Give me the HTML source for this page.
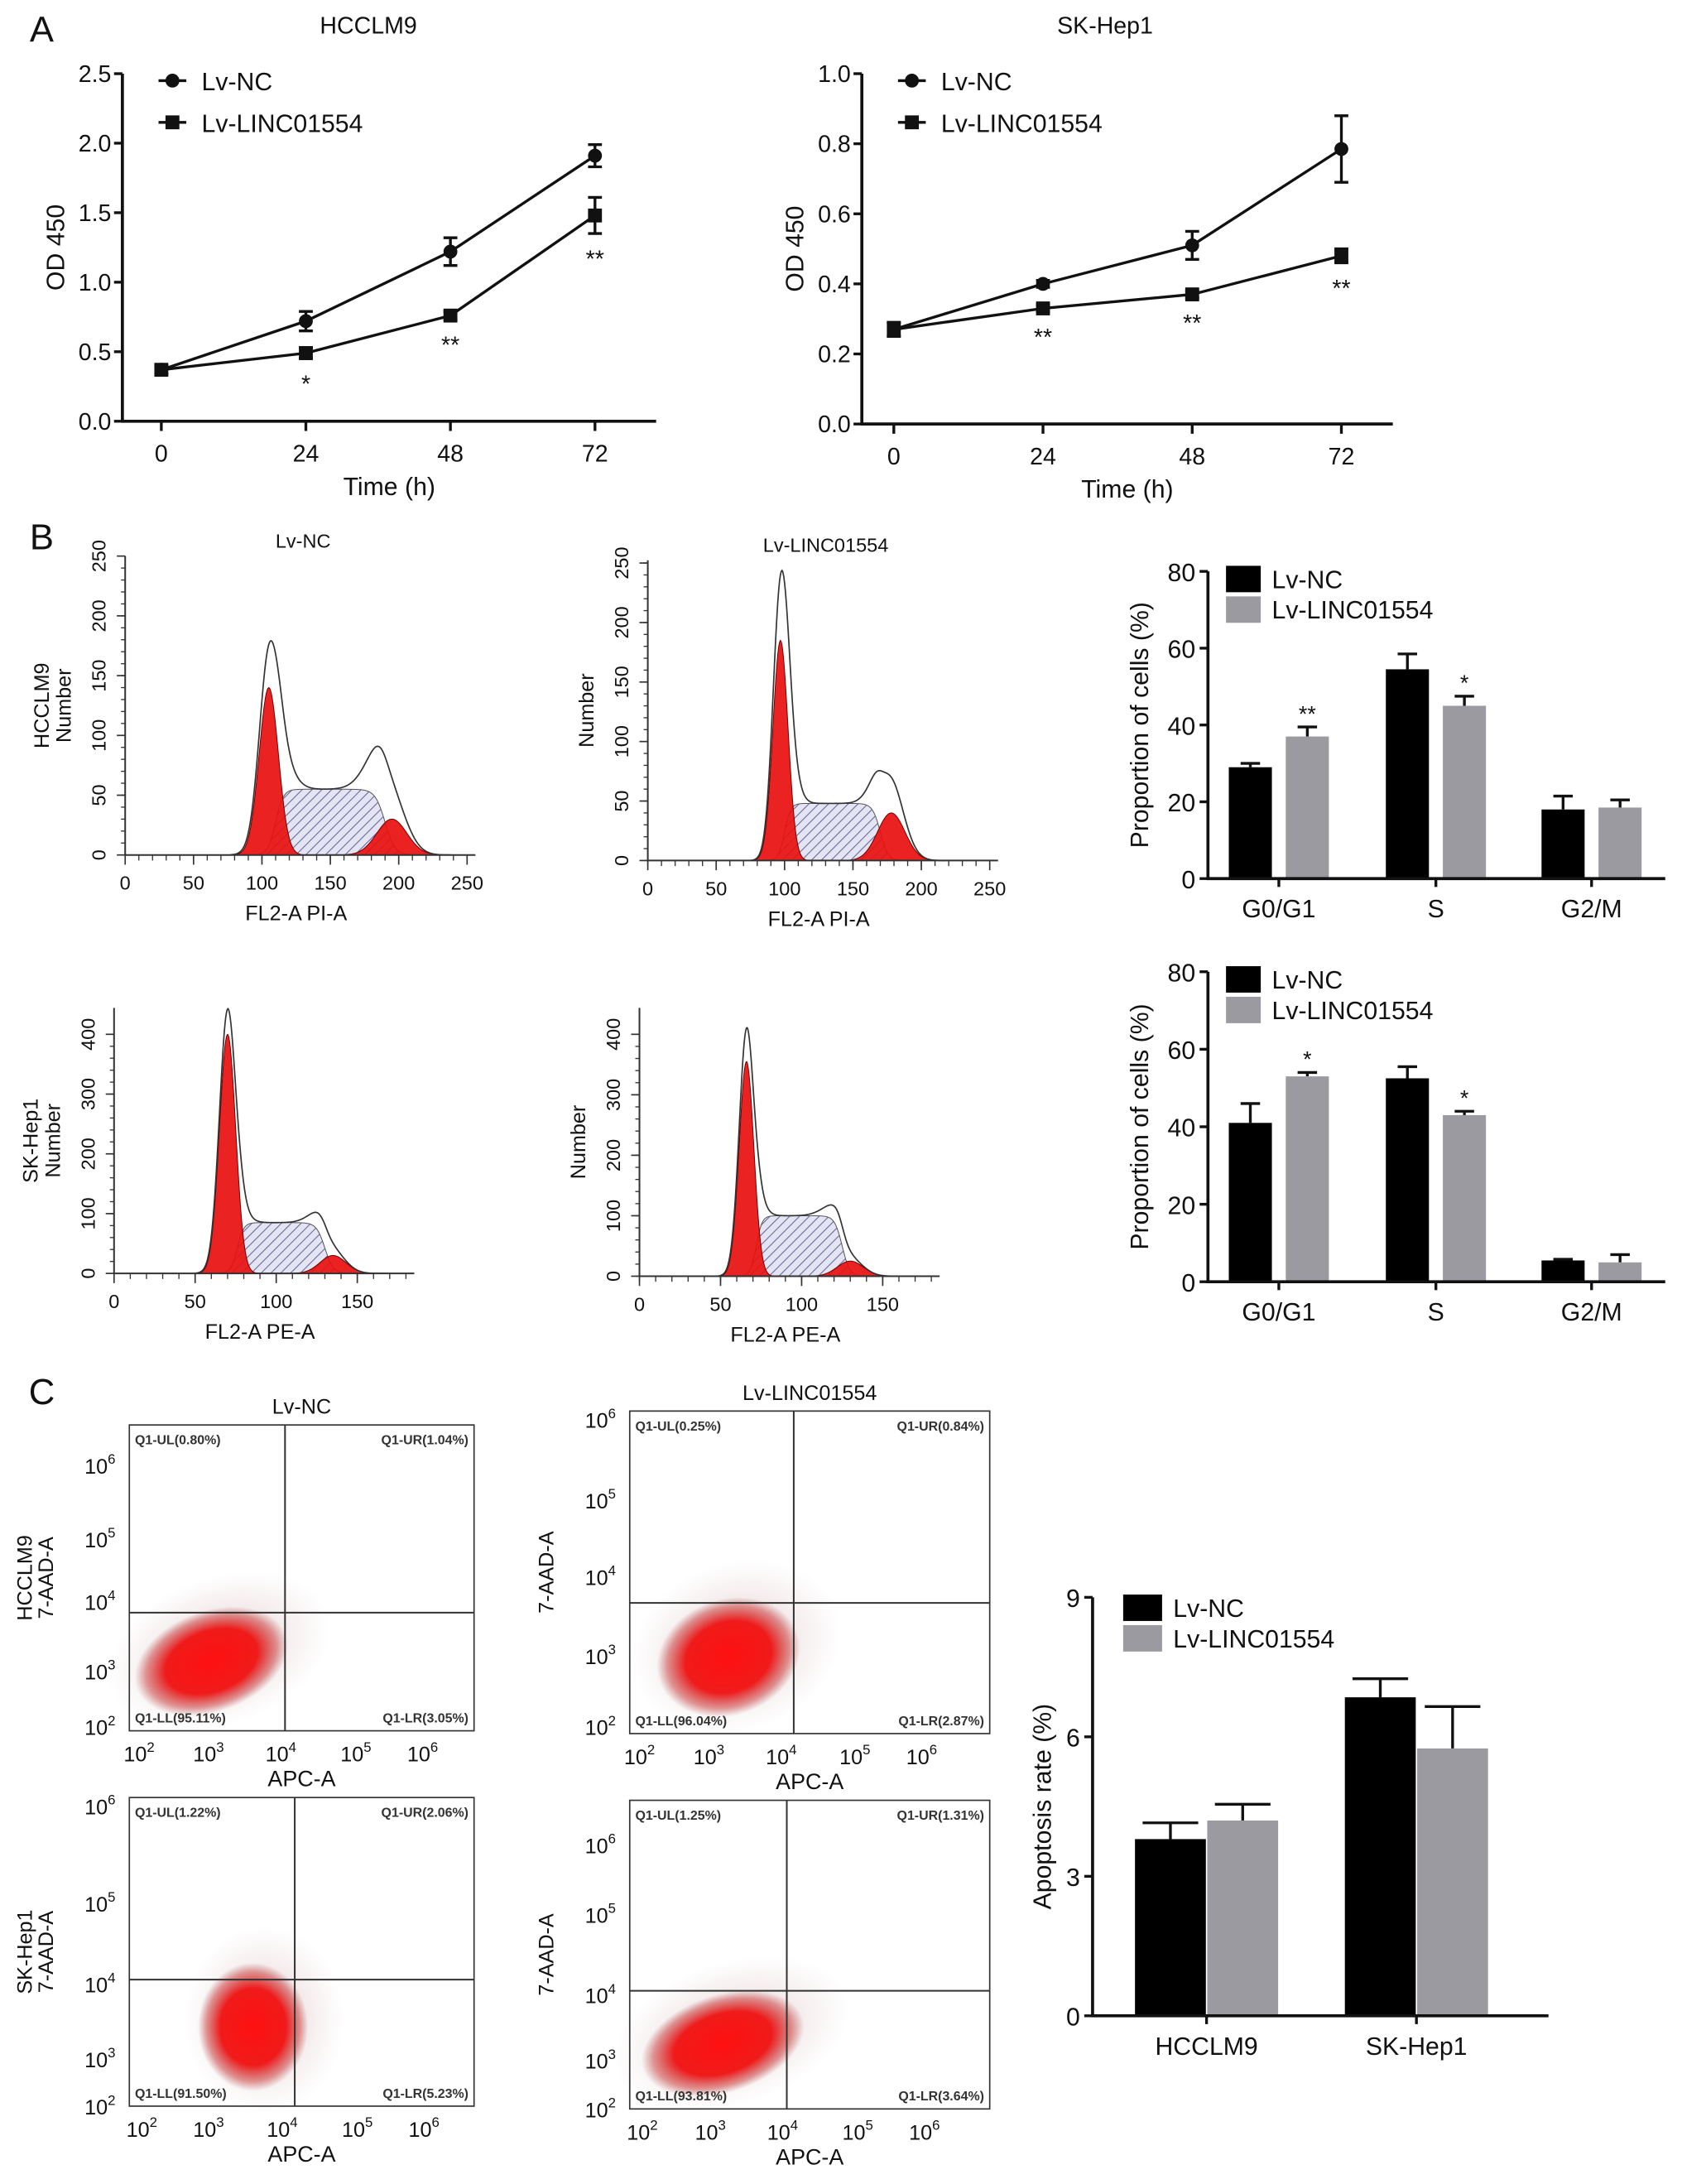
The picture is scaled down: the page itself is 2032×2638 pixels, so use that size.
<!DOCTYPE html>
<html><head><meta charset="utf-8">
<style>
html,body{margin:0;padding:0;background:#fff;}
svg{display:block;font-family:"Liberation Sans",Arial,sans-serif;}
</style></head>
<body>
<svg id="fig" width="2032" height="2638" viewBox="0 0 1210 1571" xmlns="http://www.w3.org/2000/svg">
<defs>
<pattern id="hatch" patternUnits="userSpaceOnUse" width="5" height="5" patternTransform="rotate(45)">
<rect width="5" height="5" fill="#e4e4f2"/>
<line x1="0" y1="0" x2="0" y2="5" stroke="#6a6aa0" stroke-width="1.3"/>
</pattern>
<radialGradient id="cloud" cx="50%" cy="50%" r="50%">
<stop offset="0%" stop-color="#ff1010" stop-opacity="1"/>
<stop offset="60%" stop-color="#f01010" stop-opacity="0.95"/>
<stop offset="85%" stop-color="#c83030" stop-opacity="0.5"/>
<stop offset="100%" stop-color="#b04040" stop-opacity="0"/>
</radialGradient>
<radialGradient id="cloud2" cx="50%" cy="50%" r="50%">
<stop offset="0%" stop-color="#a04040" stop-opacity="0.25"/>
<stop offset="100%" stop-color="#a06060" stop-opacity="0"/>
</radialGradient>
</defs>
<g id="root"></g>
</svg>
<script>
// ---------- Panel A data ----------
const timeCats = [0, 24, 48, 72];
const hccNC = [0.37, 0.72, 1.22, 1.91];
const hccNCerr = [0.03, 0.07, 0.10, 0.08];
const hccLinc = [0.37, 0.49, 0.76, 1.48];
const hccLincErr = [0.03, 0.04, 0.03, 0.13];
const hccStars = ["", "*", "**", "**"];
const hccTicks = ["0.0", "0.5", "1.0", "1.5", "2.0", "2.5"];
const skNC = [0.27, 0.40, 0.51, 0.785];
const skNCerr = [0.02, 0.01, 0.04, 0.095];
const skLinc = [0.27, 0.33, 0.37, 0.48];
const skLincErr = [0.02, 0.01, 0.01, 0.02];
const skStars = ["", "**", "**", "**"];
const skTicks = ["0.0", "0.2", "0.4", "0.6", "0.8", "1.0"];
// ---------- Panel B bar data ----------
const phaseCats = ["G0/G1", "S", "G2/M"];
const cycHccNC = [29, 54.5, 18];
const cycHccNCerr = [1, 4, 3.5];
const cycHccLinc = [37, 45, 18.5];
const cycHccLincErr = [2.5, 2.5, 2];
const cycHccStars = ["**", "*", ""];
const cycSkNC = [41, 52.5, 5.5];
const cycSkNCerr = [5, 3, 0.3];
const cycSkLinc = [53, 43, 5];
const cycSkLincErr = [1, 1, 2];
const cycSkStars = ["*", "*", ""];
const cycTicks = [0, 20, 40, 60, 80];
// ---------- Histogram model components [mu, sd, height] ----------
const histHccNC_g1 = [105, 7, 140], histHccNC_s = [110, 190, 55], histHccNC_g2 = [195, 11, 30], histHccNC_extra = [110, 10, 32, 188, 12, 28];
const histHccLinc_g1 = [97, 5.5, 185], histHccLinc_s = [100, 170, 48], histHccLinc_g2 = [178, 10, 40], histHccLinc_extra = [100, 7, 50, 176, 9, 28];
const histSkNC_g1 = [70, 5, 400], histSkNC_s = [76, 130, 85], histSkNC_g2 = [135, 8, 30], histSkNC_extra = [72, 7, 40, 128, 8, 15];
const histSkLinc_g1 = [66, 4.5, 355], histSkLinc_s = [72, 125, 100], histSkLinc_g2 = [130, 8, 25], histSkLinc_extra = [68, 6, 55, 120, 8, 15];
const histTicksA = [0, 50, 100, 150, 200, 250];
const histTicksB = [0, 50, 100, 150];
const histYTicksA = [0, 50, 100, 150, 200, 250];
const histYTicksB = [0, 100, 200, 300, 400];
// ---------- Panel C data ----------
const apoCats = ["HCCLM9", "SK-Hep1"];
const apoNC = [3.8, 6.85];
const apoNCerr = [0.35, 0.4];
const apoLinc = [4.2, 5.75];
const apoLincErr = [0.35, 0.9];
const apoTicks = [0, 3, 6, 9];
const quadTL = ["Q1-UL(0.80%)", "Q1-UR(1.04%)", "Q1-LL(95.11%)", "Q1-LR(3.05%)"];
const quadTR = ["Q1-UL(0.25%)", "Q1-UR(0.84%)", "Q1-LL(96.04%)", "Q1-LR(2.87%)"];
const quadBL = ["Q1-UL(1.22%)", "Q1-UR(2.06%)", "Q1-LL(91.50%)", "Q1-LR(5.23%)"];
const quadBR = ["Q1-UL(1.25%)", "Q1-UR(1.31%)", "Q1-LL(93.81%)", "Q1-LR(3.64%)"];
const logExps = ["2", "3", "4", "5", "6"];

const NS = "http://www.w3.org/2000/svg";
const root = document.getElementById('root');
function mk(tag, attrs, name, parent) {
  const el = document.createElementNS(NS, tag);
  for (const k in attrs) el.setAttribute(k, attrs[k]);
  
  
  (parent || root).appendChild(el);
  return el;
}
function txt(x, y, s, size, name, opts) {
  opts = opts || {};
  const t = mk('text', {x: x, y: y, 'font-size': size, 'text-anchor': opts.anchor || 'middle', fill: opts.fill || '#111', 'font-weight': opts.weight || 'normal'}, name);
  if (opts.rot) t.setAttribute('transform', 'rotate(' + opts.rot + ' ' + x + ' ' + y + ')');
  t.textContent = s;
  return t;
}
function line(x1, y1, x2, y2, w, name, col) {
  return mk('line', {x1: x1, y1: y1, x2: x2, y2: y2, stroke: col || '#111', 'stroke-width': w}, name);
}

// ---------- Panel A line charts ----------
function lineChart(c) {
  const sx = v => c.x0 + (v / 72) * (c.x72 - c.x0);
  const sy = v => c.yb - (v / c.ymax) * (c.yb - c.yt);
  line(c.ax, c.yt, c.ax, c.yb + 1, 2.2, 'y-axis');
  line(c.ax - 1, c.yb, c.xend, c.yb, 2.2, 'x-axis');
  c.ticks.forEach((t, i) => {
    const v = parseFloat(t);
    line(c.ax - 6, sy(v), c.ax, sy(v), 2, 'y-tick');
    txt(c.ax - 8, sy(v) + 6, t, 17, 'y-tick-label', {anchor: 'end'});
  });
  timeCats.forEach(t => {
    line(sx(t), c.yb, sx(t), c.yb + 7, 2, 'x-tick');
    txt(sx(t), c.yb + 29, String(t), 17, 'x-tick-label');
  });
  txt((c.ax + c.xend) / 2, c.yb + 53, 'Time (h)', 18, 'x-axis-title');
  txt(c.ax - 42, (c.yt + c.yb) / 2, 'OD 450', 18, 'y-axis-title', {rot: -90});
  txt(c.titleX, 24, c.title, 17, 'chart-title');
  const series = [[c.nc, c.ncErr, 'circle', 'lv-nc'], [c.li, c.liErr, 'square', 'lv-linc01554']];
  series.forEach(s => {
    const pts = s[0].map((v, i) => sx(timeCats[i]) + ',' + sy(v)).join(' ');
    mk('polyline', {points: pts, fill: 'none', stroke: '#111', 'stroke-width': 2}, s[3] + '-line');
    s[0].forEach((v, i) => {
      const x = sx(timeCats[i]);
      const e = s[1][i];
      line(x, sy(v + e), x, sy(v - e), 2, s[3] + '-error-bar');
      line(x - 5, sy(v + e), x + 5, sy(v + e), 2, s[3] + '-error-cap');
      line(x - 5, sy(v - e), x + 5, sy(v - e), 2, s[3] + '-error-cap');
      if (s[2] === 'circle') mk('circle', {cx: x, cy: sy(v), r: 5, fill: '#111'}, s[3] + '-point');
      else mk('rect', {x: x - 5, y: sy(v) - 5, width: 10, height: 10, fill: '#111'}, s[3] + '-point');
    });
  });
  c.stars.forEach((s, i) => {
    if (s) txt(sx(timeCats[i]), sy(c.li[i] - c.liErr[i]) + 24, s, 17, 'significance-star');
  });
  line(c.ax + 26, 58, c.ax + 46, 58, 2, 'legend-line');
  mk('circle', {cx: c.ax + 36, cy: 58, r: 5, fill: '#111'}, 'legend-marker');
  txt(c.ax + 57, 65, 'Lv-NC', 18, 'legend-label', {anchor: 'start'});
  line(c.ax + 26, 88, c.ax + 46, 88, 2, 'legend-line');
  mk('rect', {x: c.ax + 31, y: 83, width: 10, height: 10, fill: '#111'}, 'legend-marker');
  txt(c.ax + 57, 95, 'Lv-LINC01554', 18, 'legend-label', {anchor: 'start'});
}
txt(30, 30, 'A', 26, 'panel-label-a');
lineChart({ax: 88, x0: 116, x72: 428, xend: 472, yt: 53, yb: 303, ymax: 2.5, ticks: hccTicks, nc: hccNC, ncErr: hccNCerr, li: hccLinc, liErr: hccLincErr, stars: hccStars, title: 'HCCLM9', titleX: 265});
lineChart({ax: 620, x0: 643, x72: 965, xend: 1002, yt: 53, yb: 305, ymax: 1.0, ticks: skTicks, nc: skNC, ncErr: skNCerr, li: skLinc, liErr: skLincErr, stars: skStars, title: 'SK-Hep1', titleX: 795});

// ---------- Panel B histograms ----------
function gauss(x, p) { return p[2] * Math.exp(-0.5 * Math.pow((x - p[0]) / p[1], 2)); }
function sPhase(x, p, w) { return p[2] * 0.5 * (1 + Math.tanh((x - p[0]) / w)) * 0.5 * (1 - Math.tanh((x - p[1]) / (w * 1.3))); }
function hist(c) {
  const sx = v => c.x0 + v / c.xmax * (c.x1 - c.x0);
  const sy = v => c.yb - v / c.ymaxv * (c.yb - c.ytv);
  const step = c.xmax / 400;
  const pathFor = f => {
    let d = 'M' + sx(0) + ',' + c.yb;
    for (let x = 0; x <= c.xmax; x += step) d += ' L' + sx(x).toFixed(2) + ',' + sy(f(x)).toFixed(2);
    return d + ' L' + sx(c.xmax) + ',' + c.yb + ' Z';
  };
  const w = c.g1[1] * 0.8;
  mk('path', {d: pathFor(x => sPhase(x, c.s, w)), fill: 'url(#hatch)', stroke: '#555', 'stroke-width': 0.6}, 's-phase-fit');
  mk('path', {d: pathFor(x => gauss(x, c.g1)), fill: '#e8100f', 'fill-opacity': 0.92, stroke: '#700', 'stroke-width': 0.6}, 'g1-peak-fit');
  mk('path', {d: pathFor(x => gauss(x, c.g2)), fill: '#e8100f', 'fill-opacity': 0.92, stroke: '#700', 'stroke-width': 0.6}, 'g2-peak-fit');
  const env = x => gauss(x, c.g1) + sPhase(x, c.s, w) + gauss(x, c.g2) + gauss(x, c.ex.slice(0, 3)) + gauss(x, c.ex.slice(3, 6));
  let d = '';
  for (let x = c.g1[0] - 4 * c.g1[1]; x <= c.g2[0] + 4 * c.g2[1]; x += step) d += (d ? ' L' : 'M') + sx(x).toFixed(2) + ',' + sy(env(x)).toFixed(2);
  mk('path', {d: d, fill: 'none', stroke: '#333', 'stroke-width': 1}, 'histogram-envelope');
  line(c.x0, c.yt, c.x0, c.yb, 1.2, 'y-axis', '#333');
  line(c.x0, c.yb, c.x1 + 6, c.yb, 1.2, 'x-axis', '#333');
  c.xt.forEach(t => {
    line(sx(t), c.yb, sx(t), c.yb + 7, 1, 'x-tick', '#333');
    txt(sx(t), c.yb + 25, String(t), 14, 'x-tick-label');
  });
  for (let t = 0; t <= c.xmax; t += 10) line(sx(t), c.yb, sx(t), c.yb + 4, 0.8, 'x-minor-tick', '#333');
  c.yt2.forEach(t => {
    line(c.x0 - 6, sy(t), c.x0, sy(t), 1, 'y-tick', '#333');
    txt(c.x0 - 14, sy(t), String(t), 14, 'y-tick-label', {rot: -90});
  });
  for (let t = 0; t <= c.ymaxv; t += c.minor) line(c.x0 - 3, sy(t), c.x0, sy(t), 0.8, 'y-minor-tick', '#333');
  txt((c.x0 + c.x1) / 2, c.yb + 47, c.xlab, 15, 'x-axis-title');
  if (c.title) txt((c.x0 + c.x1) / 2 + 5, c.yt - 6, c.title, 14, 'histogram-title');
  c.ylab.forEach((l, i) => txt(c.x0 - 55 + i * 16, (c.yt + c.yb) / 2, l, 15, 'y-axis-title', {rot: -90}));
}
txt(30, 395, 'B', 26, 'panel-label-b');
hist({x0: 90, x1: 336, xmax: 250, yb: 615, yt: 400, ytv: 400, ymaxv: 250, g1: histHccNC_g1, s: histHccNC_s, g2: histHccNC_g2, ex: histHccNC_extra, xt: histTicksA, yt2: histYTicksA, minor: 10, xlab: 'FL2-A PI-A', title: 'Lv-NC', ylab: ['HCCLM9', 'Number']});
hist({x0: 466, x1: 712, xmax: 250, yb: 619, yt: 403, ytv: 405, ymaxv: 250, g1: histHccLinc_g1, s: histHccLinc_s, g2: histHccLinc_g2, ex: histHccLinc_extra, xt: histTicksA, yt2: histYTicksA, minor: 10, xlab: 'FL2-A PI-A', title: 'Lv-LINC01554', ylab: ['', 'Number']});
hist({x0: 82, x1: 292, xmax: 180, yb: 916, yt: 725, ytv: 744, ymaxv: 400, g1: histSkNC_g1, s: histSkNC_s, g2: histSkNC_g2, ex: histSkNC_extra, xt: histTicksB, yt2: histYTicksB, minor: 20, xlab: 'FL2-A PE-A', title: '', ylab: ['SK-Hep1', 'Number']});
hist({x0: 460, x1: 670, xmax: 180, yb: 918, yt: 725, ytv: 744, ymaxv: 400, g1: histSkLinc_g1, s: histSkLinc_s, g2: histSkLinc_g2, ex: histSkLinc_extra, xt: histTicksB, yt2: histYTicksB, minor: 20, xlab: 'FL2-A PE-A', title: '', ylab: ['', 'Number']});

// ---------- Bar charts ----------
function barChart(c) {
  const sy = v => c.yb - v / c.ymax * (c.yb - c.yt);
  c.cats.forEach((cat, i) => {
    const cx = c.catX[i];
    [[c.nc, c.ncErr, '#000', -1, 'lv-nc-bar'], [c.li, c.liErr, '#9a9aa0', 1, 'lv-linc01554-bar']].forEach(s => {
      const x = s[3] < 0 ? cx - c.gap / 2 - c.bw : cx + c.gap / 2;
      const v = s[0][i], e = s[1][i];
      line(x + c.bw / 2, sy(v + e), x + c.bw / 2, sy(v), 2, 'error-bar');
      line(x + c.bw / 2 - c.cap, sy(v + e), x + c.bw / 2 + c.cap, sy(v + e), 2, 'error-cap');
      mk('rect', {x: x, y: sy(v), width: c.bw, height: c.yb - sy(v), fill: s[2]}, s[4]);
      if (s[3] > 0 && c.stars && c.stars[i]) txt(x + c.bw / 2, sy(v + e) - 4, c.stars[i], 16, 'significance-star');
    });
    line(cx, c.yb, cx, c.yb + 6, 2, 'x-tick');
    txt(cx, c.yb + 28, cat, c.catSize, 'x-tick-label');
  });
  line(c.ax, c.yt, c.ax, c.yb + 1, 2.2, 'y-axis');
  line(c.ax - 1, c.yb, c.xend, c.yb, 2.2, 'x-axis');
  c.ticks.forEach(t => {
    line(c.ax - 6, sy(t), c.ax, sy(t), 2, 'y-tick');
    txt(c.ax - 9, sy(t) + 7, String(t), 18, 'y-tick-label', {anchor: 'end'});
  });
  txt(c.ytx, (c.yt + c.yb) / 2, c.ytitle, 18, 'y-axis-title', {rot: -90});
  mk('rect', {x: c.lx, y: c.ly, width: c.lw, height: 19, fill: '#000'}, 'legend-swatch-lv-nc');
  txt(c.lx + c.lw + 8, c.ly + 16, 'Lv-NC', 18, 'legend-label', {anchor: 'start'});
  mk('rect', {x: c.lx, y: c.ly + 22, width: c.lw, height: 19, fill: '#9a9aa0'}, 'legend-swatch-lv-linc01554');
  txt(c.lx + c.lw + 8, c.ly + 38, 'Lv-LINC01554', 18, 'legend-label', {anchor: 'start'});
}
barChart({cats: phaseCats, catX: [920, 1033, 1145], bw: 31, gap: 10, cap: 7, ax: 869, xend: 1198, yt: 411, yb: 632, ymax: 80, nc: cycHccNC, ncErr: cycHccNCerr, li: cycHccLinc, liErr: cycHccLincErr, stars: cycHccStars, ticks: cycTicks, ytitle: 'Proportion of cells (%)', ytx: 826, lx: 882, ly: 407, lw: 25, catSize: 18});
barChart({cats: phaseCats, catX: [920, 1033, 1145], bw: 31, gap: 10, cap: 7, ax: 869, xend: 1198, yt: 699, yb: 922, ymax: 80, nc: cycSkNC, ncErr: cycSkNCerr, li: cycSkLinc, liErr: cycSkLincErr, stars: cycSkStars, ticks: cycTicks, ytitle: 'Proportion of cells (%)', ytx: 826, lx: 882, ly: 695, lw: 25, catSize: 18});
barChart({cats: apoCats, catX: [868, 1019], bw: 51, gap: 1, cap: 20, ax: 786, xend: 1114, yt: 1149, yb: 1450, ymax: 9, nc: apoNC, ncErr: apoNCerr, li: apoLinc, liErr: apoLincErr, stars: null, ticks: apoTicks, ytitle: 'Apoptosis rate (%)', ytx: 756, lx: 808, ly: 1147, lw: 28, catSize: 18});

// ---------- Panel C scatter plots ----------
function scatter(c) {
  mk('rect', {x: c.x0, y: c.y0, width: c.x1 - c.x0, height: c.y1 - c.y0, fill: '#fff', stroke: '#333', 'stroke-width': 1}, 'scatter-frame');
  mk('ellipse', {cx: c.sc[0] + 8, cy: c.sc[1] - 5, rx: c.sc[2] * 1.6, ry: c.sc[3] * 1.6, fill: 'url(#cloud2)', transform: 'rotate(' + c.sc[4] + ' ' + c.sc[0] + ' ' + c.sc[1] + ')'}, 'event-cloud-halo');
  mk('ellipse', {cx: c.sc[0], cy: c.sc[1], rx: c.sc[2] * 1.1, ry: c.sc[3] * 1.1, fill: 'url(#cloud)', transform: 'rotate(' + c.sc[4] + ' ' + c.sc[0] + ' ' + c.sc[1] + ')'}, 'event-cloud');
  line(c.qx, c.y0, c.qx, c.y1, 1.2, 'quadrant-gate-vertical', '#333');
  line(c.x0, c.qy, c.x1, c.qy, 1.2, 'quadrant-gate-horizontal', '#333');
  const q = c.q;
  txt(c.x0 + 4, c.y0 + 14, q[0], 9.5, 'quadrant-ul-label', {anchor: 'start', fill: '#333', weight: 'bold'});
  txt(c.x1 - 4, c.y0 + 14, q[1], 9.5, 'quadrant-ur-label', {anchor: 'end', fill: '#333', weight: 'bold'});
  txt(c.x0 + 4, c.y1 - 6, q[2], 9.5, 'quadrant-ll-label', {anchor: 'start', fill: '#333', weight: 'bold'});
  txt(c.x1 - 4, c.y1 - 6, q[3], 9.5, 'quadrant-lr-label', {anchor: 'end', fill: '#333', weight: 'bold'});
  logExps.forEach((e, i) => {
    const t = txt(c.xl[i], c.y1 + 22, '10', 15, 'x-tick-label');
    const s = document.createElementNS(NS, 'tspan');
    s.setAttribute('dy', '-7'); s.setAttribute('font-size', '10'); s.textContent = e;
    t.appendChild(s);
    const u = txt(c.x0 - 4, c.yl[4 - i] + 5, '10', 15, 'y-tick-label', {anchor: 'end'});
    u.setAttribute('dx', '-6');
    const s2 = document.createElementNS(NS, 'tspan');
    s2.setAttribute('dy', '-7'); s2.setAttribute('font-size', '10'); s2.textContent = e;
    u.appendChild(s2);
  });
  txt((c.x0 + c.x1) / 2, c.y1 + 40, 'APC-A', 16, 'x-axis-title');
  c.ylab.forEach((l, i) => txt(c.x0 - 70 + i * 15, (c.y0 + c.y1) / 2, l, 15, 'y-axis-title', {rot: -90}));
  if (c.title) txt((c.x0 + c.x1) / 2, c.y0 - 8, c.title, 15, 'scatter-title');
}
txt(30, 1010, 'C', 26, 'panel-label-c');
scatter({x0: 93, x1: 341, y0: 1025, y1: 1245, qx: 205, qy: 1160, sc: [152, 1195, 52, 33, -20], q: quadTL, xl: [100, 150, 202, 256, 304], yl: [1055, 1108, 1153, 1203, 1243], ylab: ['HCCLM9', '7-AAD-A'], title: 'Lv-NC'});
scatter({x0: 453, x1: 712, y0: 1015, y1: 1247, qx: 571, qy: 1153, sc: [524, 1192, 48, 38, -20], q: quadTR, xl: [460, 510, 562, 615, 663], yl: [1022, 1080, 1135, 1192, 1243], ylab: ['', '7-AAD-A'], title: 'Lv-LINC01554'});
scatter({x0: 93, x1: 341, y0: 1293, y1: 1515, qx: 212, qy: 1424, sc: [182, 1458, 36, 42, 0], q: quadBL, xl: [102, 150, 203, 257, 305], yl: [1300, 1370, 1428, 1482, 1516], ylab: ['SK-Hep1', '7-AAD-A'], title: ''});
scatter({x0: 453, x1: 712, y0: 1295, y1: 1517, qx: 566, qy: 1432, sc: [520, 1470, 55, 32, -18], q: quadBR, xl: [462, 511, 563, 617, 665], yl: [1328, 1378, 1436, 1483, 1518], ylab: ['', '7-AAD-A'], title: ''});
</script>
</body></html>
